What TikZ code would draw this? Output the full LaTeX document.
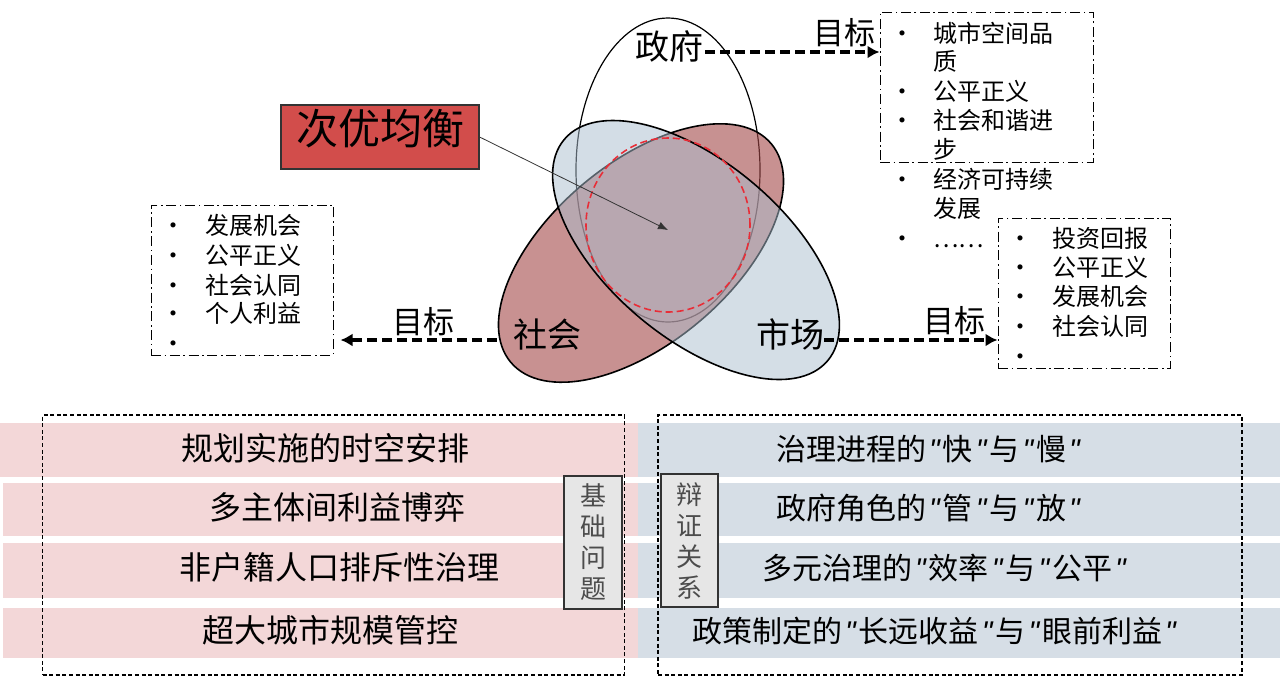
\documentclass[tikz,border=0pt]{standalone}
\usepackage{fontspec}
\setmainfont{Noto Sans CJK SC}
\newfontfamily\qfont{Liberation Sans}
\newcommand{\qmk}{\hspace{0.1em}{\qfont\itshape "}\hspace{0.1em}}
\usetikzlibrary{arrows.meta}
\definecolor{socred}{RGB}{163,72,72}
\definecolor{mktblue}{RGB}{170,190,206}
\definecolor{eqred}{RGB}{210,77,75}
\definecolor{barpink}{RGB}{243,215,216}
\definecolor{barblue}{RGB}{214,222,230}
\definecolor{tagfill}{RGB}{230,230,230}
\definecolor{eqline}{RGB}{232,45,55}
\tikzset{
  cjk/.style={inner sep=0pt, text height=0.88em, text depth=0.12em},
  actor/.style={cjk, font=\fontsize{17pt}{20pt}\selectfont},
  goaltext/.style={cjk, font=\fontsize{15.5pt}{18pt}\selectfont},
  listtext/.style={cjk, anchor=west, font=\fontsize{12pt}{14pt}\selectfont},
  goalbox/.style={draw, line width=0.5pt, dash pattern=on 5pt off 1.8pt on 0.8pt off 1.8pt},
  goalarrow/.style={line width=1.6pt, dash pattern=on 5pt off 2.5pt, -{Latex[length=6pt,width=6.5pt]}},
  eqbox/.style={cjk, draw=black!80, line width=0.6pt, fill=eqred, inner xsep=0pt,
    minimum width=99pt, minimum height=32pt, font=\fontsize{21pt}{24pt}\selectfont},
  frame/.style={draw, line width=0.7pt, dash pattern=on 2pt off 1.3pt},
  tag/.style={draw=black!80, line width=0.6pt, fill=tagfill, align=center, inner sep=0pt,
    text=black!70, font=\fontsize{13pt}{15.5pt}\selectfont},
  basetext/.style={cjk, font=\fontsize{16pt}{19pt}\selectfont},
  dialtext/.style={cjk, font=\fontsize{15pt}{18pt}\selectfont}
}
\begin{document}
\begin{tikzpicture}[x=0.5pt, y=-0.5pt]
\useasboundingbox (0,0) rectangle (1280,677);

% bottom bars
\foreach \t/\b/\l in {423/477/0, 483/536/3, 543/598/3, 608/658/3} {
  \fill[barpink] (\l,\t) rectangle (640,\b);
  \fill[barblue] (638,\t) rectangle (1280,\b);
}
\node (basefrm) [frame, minimum width=291pt, minimum height=130pt] at (333.5,545) {};
\node (dialfrm) [frame, minimum width=292pt, minimum height=130pt] at (950,545) {};
\foreach \x/\y/\t [count=\i] in {325/453/规划实施的时空安排, 337/512/多主体间利益博弈,
    339/572/非户籍人口排斥性治理, 330/635/超大城市规模管控}
  \node (base-\i) [basetext] at (\x,\y) {\t};
\foreach \x/\y/\t [count=\i] in {928/453/治理进程的\qmk 快\qmk 与\qmk 慢\qmk,
    928/512/政府角色的\qmk 管\qmk 与\qmk 放\qmk,
    944/572/多元治理的\qmk 效率\qmk 与\qmk 公平\qmk,
    934/635/政策制定的\qmk 长远收益\qmk 与\qmk 眼前利益\qmk}
  \node (dial-\i) [dialtext] at (\x,\y) {\t};
\node (basetag) [tag, minimum width=29pt, minimum height=66.5pt] at (593,542.5) {基\\础\\问\\题};
\node (dialtag) [tag, minimum width=28.5pt, minimum height=66.5pt] at (689.5,540.5) {辩\\证\\关\\系};

% three actors
\draw[line width=0.6pt, fill=white] (668,170) ellipse [x radius=46pt, y radius=76pt];
\draw[line width=0.8pt, fill=socred, fill opacity=0.6, rotate around={40:(641,253)}]
  (641,253) ellipse [x radius=85pt, y radius=45pt];
\draw[line width=0.8pt, fill=mktblue, fill opacity=0.51, rotate around={-40:(696,250)}]
  (696,250) ellipse [x radius=86pt, y radius=44pt];
\draw[eqline, line width=0.8pt, dash pattern=on 3.5pt off 2pt] (668,225) ellipse [x radius=41pt, y radius=43.5pt];
\coordinate (eqpt) at (668,230);

\node (gov) [actor] at (669,52) {政府};
\node (soc) [actor] at (547,340) {社会};
\node (mkt) [actor] at (790,340) {市场};
\node (eq) [eqbox] at (380,137) {次优均衡};
\draw[line width=0.4pt, black!80, -{Latex[length=5pt,width=4pt]}] (eq.east) -- (eqpt);

% goal boxes
\node (govbox) [goalbox, minimum width=106.5pt, minimum height=75pt] at (986.5,87) {};
\node (socbox) [goalbox, minimum width=91pt, minimum height=75pt] at (242,280) {};
\node (mktbox) [goalbox, minimum width=86pt, minimum height=75pt] at (1084,293) {};

\foreach \y/\b/\t [count=\i] in {35/•/城市空间品, 63//质, 93/•/公平正义, 122/•/社会和谐进,
    151//步, 181/•/经济可持续, 210//发展, 240/•/……} {
  \node (govb-\i) [listtext] at (890,\y) {\b};
  \node (govt-\i) [listtext] at (933,\y) {\t};
}
\foreach \y/\b/\t [count=\i] in {227/•/发展机会, 257/•/公平正义, 287/•/社会认同, 315/•/个人利益, 345/•/} {
  \node (socb-\i) [listtext] at (161,\y) {\b};
  \node (soct-\i) [listtext] at (205,\y) {\t};
}
\foreach \y/\b/\t [count=\i] in {240/•/投资回报, 269/•/公平正义, 298/•/发展机会, 328/•/社会认同, 358/•/} {
  \node (mktb-\i) [listtext] at (1008,\y) {\b};
  \node (mktt-\i) [listtext] at (1052,\y) {\t};
}

\draw[goalarrow] ([xshift=1pt]gov.east) -- (gov.east -| govbox.west)
  node[goaltext, pos=.8, above=2pt] (govgoal) {目标};
\draw[goalarrow, shorten >=3.5pt] ([xshift=-8pt]soc.west) -- (soc.west -| socbox.east)
  node[goaltext, pos=.45, above=1.5pt] (socgoal) {目标};
\draw[goalarrow] (mkt.east) -- (mkt.east -| mktbox.west)
  node[goaltext, pos=.75, above=2pt] (mktgoal) {目标};
\end{tikzpicture}
\end{document}
